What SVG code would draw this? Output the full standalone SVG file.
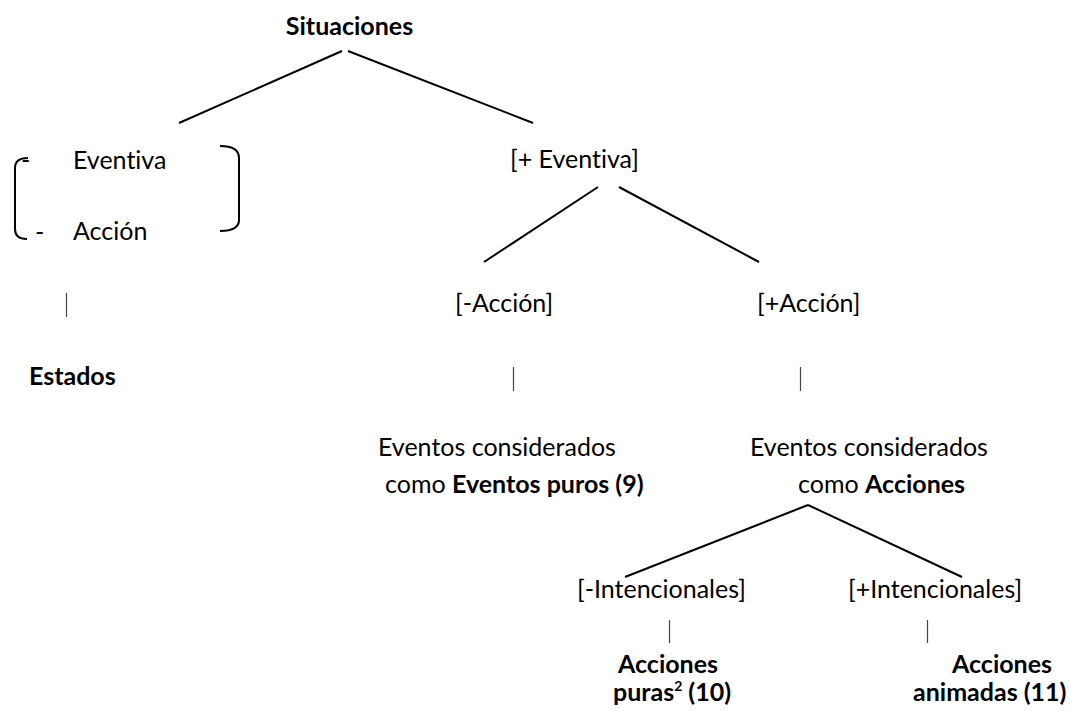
<svg xmlns="http://www.w3.org/2000/svg" width="1071" height="711" viewBox="0 0 1071 711">
<style>
text{font-family:Lato,"Liberation Sans",sans-serif;font-size:25px;fill:#000;font-variant-ligatures:none}
.b{font-weight:bold}
.ln{stroke:#000;stroke-width:2;fill:none}
.tk{stroke:#444;stroke-width:1.2;fill:none}
</style>
<rect width="1071" height="711" fill="#fff"/>
<g id="connectors">
<line class="ln" x1="342" y1="51" x2="179" y2="123"/>
<line class="ln" x1="348" y1="51" x2="533" y2="123"/>
<line class="ln" x1="598" y1="187" x2="484" y2="262"/>
<line class="ln" x1="619" y1="187" x2="759" y2="262"/>
<line class="ln" x1="808" y1="505" x2="625" y2="577"/>
<line class="ln" x1="808" y1="505" x2="962" y2="577"/>
<line class="tk" x1="66.5" y1="293" x2="66.5" y2="317"/>
<line class="tk" x1="513.5" y1="367" x2="513.5" y2="391"/>
<line class="tk" x1="800.5" y1="367" x2="800.5" y2="391"/>
<line class="tk" x1="669.5" y1="620" x2="669.5" y2="643"/>
<line class="tk" x1="927.5" y1="620" x2="927.5" y2="643"/>
</g>
<g id="situaciones"><text class="b" x="349.5" y="35" text-anchor="middle">Situaciones</text></g>
<g id="no-eventiva">
<path class="ln" d="M28,158 Q15,158 15,168 L15,229 Q15,239 27,239"/>
<path class="ln" d="M220,146 Q239,146 239,158 L239,220 Q239,231 220,231"/>
<text x="21" y="169">-</text>
<text x="73" y="169">Eventiva</text>
<text x="35" y="241">-</text>
<text x="73" y="240">Acción</text>
</g>
<g id="estados"><text class="b" x="29" y="385">Estados</text></g>
<g id="eventiva"><text x="510" y="168">[+ Eventiva]</text></g>
<g id="menos-accion"><text x="455" y="312">[-Acción]</text></g>
<g id="mas-accion"><text x="757" y="312">[+Acción]</text></g>
<g id="eventos-puros">
<text x="378" y="456">Eventos considerados</text>
<text x="385" y="493">como <tspan class="b">Eventos puros (9)</tspan></text>
</g>
<g id="acciones">
<text x="750" y="456">Eventos considerados</text>
<text x="798" y="493">como <tspan class="b">Acciones</tspan></text>
</g>
<g id="menos-intencionales"><text x="577" y="598">[-Intencionales]</text></g>
<g id="mas-intencionales"><text x="848" y="598">[+Intencionales]</text></g>
<g id="acciones-puras">
<text class="b" x="618" y="673">Acciones</text>
<text class="b" x="613" y="701">puras<tspan font-size="14" dy="-10">2</tspan><tspan dy="10"> (10)</tspan></text>
</g>
<g id="acciones-animadas">
<text class="b" x="952" y="673">Acciones</text>
<text class="b" x="913" y="701">animadas (11)</text>
</g>
</svg>
